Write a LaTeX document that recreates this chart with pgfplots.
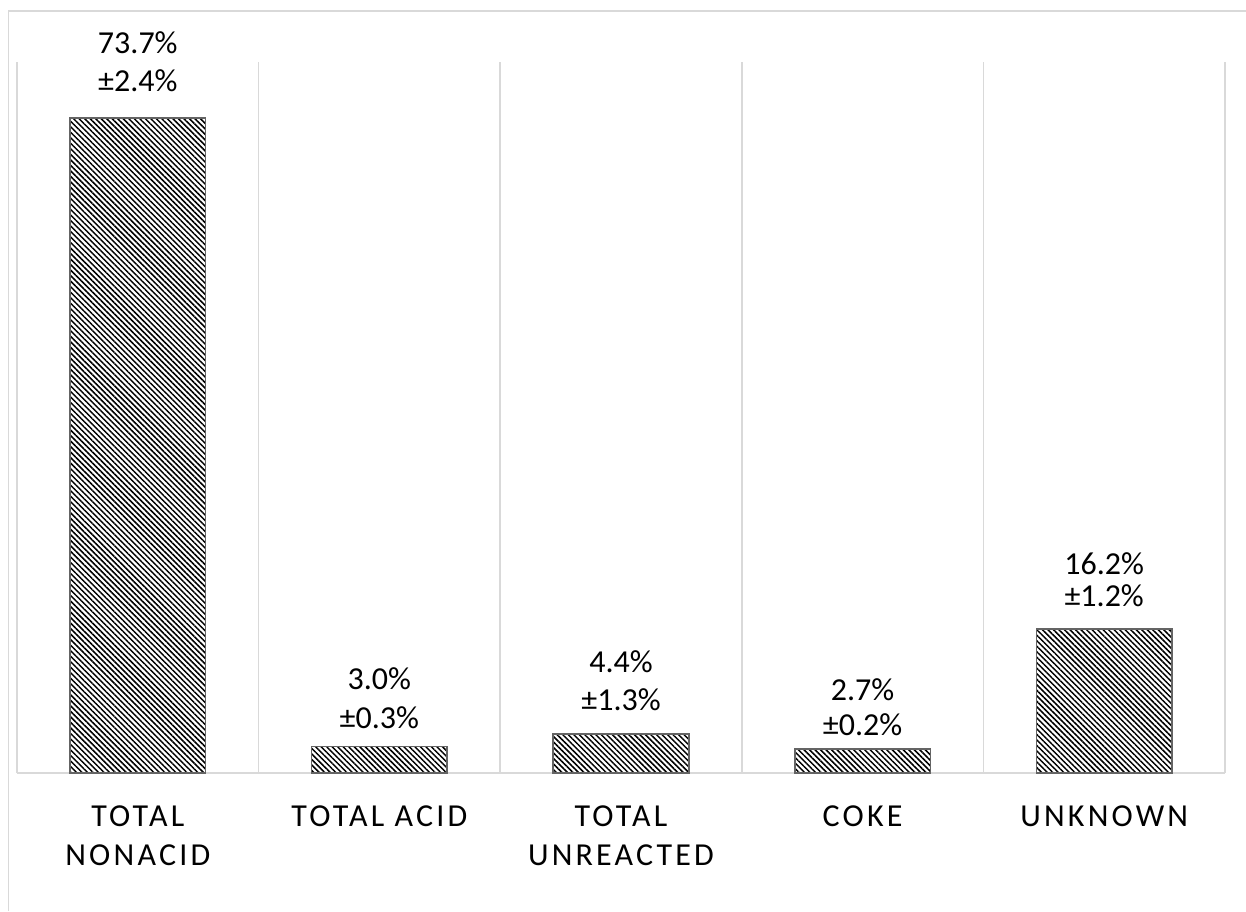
\documentclass[border=0pt]{standalone}
\usepackage{pgfplots}
\pgfplotsset{compat=1.18}
\usepackage{fontspec}
\setmainfont{Carlito}
\newfontfamily\spaced[LetterSpace=10]{Carlito}
\usetikzlibrary{patterns.meta}
\definecolor{gridgray}{RGB}{217,217,217}
\definecolor{bargray}{RGB}{100,100,100}

\begin{document}
\begin{tikzpicture}
\useasboundingbox (0,0) rectangle (623pt,455.5pt);
% chart frame (left and top edges)
\draw[gridgray, line width=0.6pt] (4.25pt,0) -- (4.25pt,450pt) -- (623pt,450pt);
\begin{axis}[
  at={(8.5pt,69pt)}, anchor=south west,
  scale only axis, width=604pt, height=355.5pt,
  xmin=-0.5, xmax=4.5, ymin=0, ymax=80,
  ybar, bar width=67.8pt,
  clip=false,
  axis y line=none,
  axis x line*=bottom,
  x axis line style={gridgray, line width=0.75pt, -},
  xtick={0,1,2,3,4},
  xticklabels={{TOTAL\\NONACID},{TOTAL ACID},{TOTAL\\UNREACTED},{COKE},{UNKNOWN}},
  major tick length=0pt,
  minor xtick={-0.5,0.5,1.5,2.5,3.5,4.5},
  minor tick length=0pt,
  xminorgrids=true,
  minor x grid style={gridgray, line width=0.75pt},
  xticklabel style={font=\fontsize{16}{19.5}\selectfont\spaced, align=center,
    anchor=north, inner sep=0pt, yshift=-16pt},
  ytick=\empty,
]
\addplot[draw=bargray, line width=0.75pt,
  pattern={Lines[angle=-45, distance=1.95pt, line width=0.75pt]},
  pattern color=black,
  visualization depends on={value \thisrow{lab}\as\mylab},
  visualization depends on={value \thisrow{err}\as\myerr},
  visualization depends on={value \thisrow{off}\as\myoff},
  visualization depends on={value \thisrow{sp}\as\mysp},
  nodes near coords={\mylab\%\\[\mysp pt]±\myerr\%},
  nodes near coords align=vertical,
  every node near coord/.style={font=\fontsize{16}{19.5}\selectfont, align=center,
    anchor=south, inner sep=0pt, yshift=\myoff pt, text=black},
] table[x=x, y=y] {
x y    lab  err off  sp
0 73.7 73.7 2.4 12.5 -0.5
1 3.0  3.0  0.3 8.5  0
2 4.4  4.4  1.3 11   -0.5
3 2.7  2.7  0.2 6    -2
4 16.2 16.2 1.2 11   -3.5
};
\end{axis}
\end{tikzpicture}
\end{document}
